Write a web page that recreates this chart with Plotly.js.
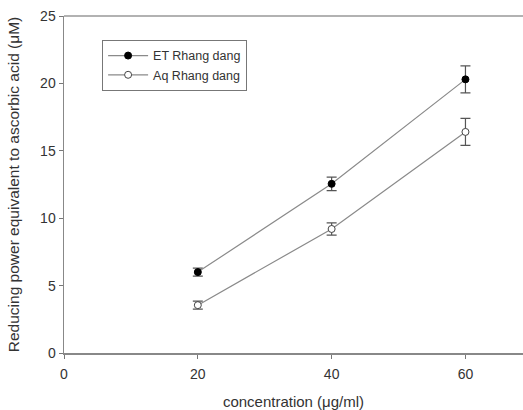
<!DOCTYPE html>
<html><head><meta charset="utf-8">
<script src="https://cdn.plot.ly/plotly-3.0.1.min.js"></script>
<style>html,body{margin:0;padding:0;background:#fff}#chart{width:523px;height:410px}</style>
</head><body><div id="chart"></div>
<script>
var concentration = [20, 40, 60];
var etValues = [6.0, 12.55, 20.3];
var etErrors = [0.3, 0.5, 1.0];
var aqValues = [3.55, 9.2, 16.4];
var aqErrors = [0.3, 0.45, 1.0];
var seriesNames = ['ET Rhang dang', 'Aq Rhang dang'];
var xTicks = [0, 20, 40, 60];
var yTicks = [0, 5, 10, 15, 20, 25];

var lineColor = '#8a8a8a';
var traces = [
  {x: concentration, y: etValues, name: seriesNames[0], type: 'scatter', mode: 'lines+markers',
   line: {color: lineColor, width: 1.2},
   marker: {color: '#000', size: 7, line: {color: '#000', width: 1}},
   error_y: {type: 'data', array: etErrors, visible: true, color: '#555', thickness: 1.2, width: 5}},
  {x: concentration, y: aqValues, name: seriesNames[1], type: 'scatter', mode: 'lines+markers',
   line: {color: lineColor, width: 1.2},
   marker: {color: '#fff', size: 7, line: {color: '#444', width: 1}},
   error_y: {type: 'data', array: aqErrors, visible: true, color: '#555', thickness: 1.2, width: 5}}
];
var layout = {
  width: 523, height: 410,
  margin: {l: 64, r: 0, t: 16, b: 57},
  paper_bgcolor: '#fff', plot_bgcolor: '#fff',
  font: {family: 'Liberation Sans, Arial, sans-serif', size: 14, color: '#333'},
  showlegend: true,
  legend: {x: 0.083, y: 0.929, xanchor: 'left', yanchor: 'top', bordercolor: '#777', borderwidth: 1,
           bgcolor: '#fff', font: {size: 12.5, color: '#333'}, tracegroupgap: 0, itemwidth: 40},
  xaxis: {range: [0, 68.6], tickvals: xTicks, ticks: 'outside', ticklen: 4, tickcolor: '#777',
          showline: true, linecolor: '#888', linewidth: 1.5, showgrid: false, zeroline: false,
          tickfont: {size: 14}, mirror: false, ticklabelstandoff: 4,
          title: {text: 'concentration (\u03bcg/ml)', font: {size: 15}, standoff: 16}},
  yaxis: {range: [0, 25], tickvals: yTicks, ticks: 'outside', ticklen: 4, tickcolor: '#777',
          showline: true, linecolor: '#888', linewidth: 1.5, showgrid: false, zeroline: false,
          tickfont: {size: 14},
          title: {text: 'Reducing power equivalent to ascorbic acid (\u03bcM)', font: {size: 15.5}, standoff: 16}},
  shapes: [{type: 'line', xref: 'paper', yref: 'paper', x0: 0, x1: 1, y0: 1, y1: 1,
            line: {color: '#999', width: 1.5}}]
};
Plotly.newPlot('chart', traces, layout, {displayModeBar: false, staticPlot: true});
</script></body></html>
